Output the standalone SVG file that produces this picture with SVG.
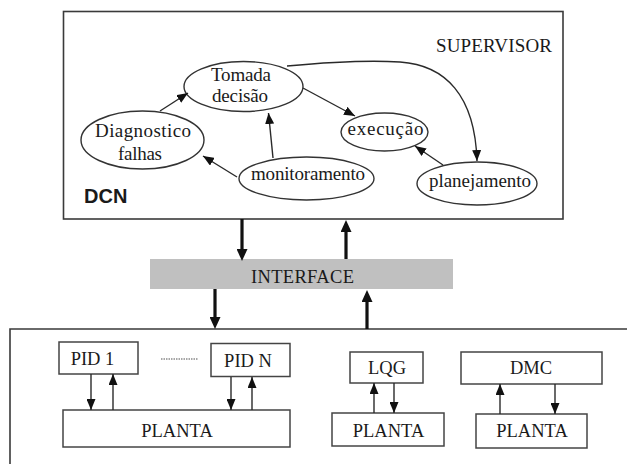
<svg xmlns="http://www.w3.org/2000/svg" width="627" height="464" viewBox="0 0 627 464">
  <style>
    .frame { fill: none; stroke: #3a3a3a; stroke-width: 1.6; }
    .node ellipse { fill: #fff; stroke: #333; stroke-width: 1.4; }
    .node rect { fill: #fff; stroke: #444; stroke-width: 1.5; }
    .lbl { font-family: "Liberation Serif", "Times New Roman", serif; font-size: 19px; fill: #1a1a1a; text-anchor: middle; }
    .blbl { font-family: "Liberation Serif", "Times New Roman", serif; font-size: 18.5px; fill: #1a1a1a; text-anchor: middle; }
    .thin { fill: none; stroke: #2a2a2a; stroke-width: 1.4; marker-end: url(#ah); }
    .thick { fill: none; stroke: #111; stroke-width: 3.2; marker-end: url(#ahBig); }
  </style>
  <defs>
    <marker id="ah" viewBox="0 0 10 10" refX="10" refY="5" markerWidth="11" markerHeight="9" markerUnits="userSpaceOnUse" orient="auto" preserveAspectRatio="none">
      <path d="M0,0 L10,5 L0,10 z" fill="#111"/>
    </marker>
    <marker id="ahBig" viewBox="0 0 10 10" refX="5" refY="5" markerWidth="12" markerHeight="11" markerUnits="userSpaceOnUse" orient="auto" preserveAspectRatio="none">
      <path d="M0,0 L10,5 L0,10 z" fill="#111"/>
    </marker>
  </defs>

  <rect width="627" height="464" fill="#fff"/>

  <!-- supervisor frame -->
  <g id="supervisor">
    <rect class="frame" x="63.5" y="11.5" width="499.5" height="207.5"/>
    <text class="lbl" x="494" y="52" textLength="116" lengthAdjust="spacing">SUPERVISOR</text>
    <text x="84" y="203" font-family="'Liberation Sans', Arial, sans-serif" font-weight="bold" font-size="20" fill="#1a1a1a">DCN</text>
  </g>

  <!-- plant-level frame (open at right and bottom) -->
  <g id="plant-level">
    <path class="frame" d="M10,464 V329 H627"/>
  </g>

  <!-- interface band -->
  <g id="interface">
    <rect x="150" y="259" width="303" height="30" fill="#c0c0c0"/>
    <text class="blbl" x="302.5" y="283" textLength="103" lengthAdjust="spacing">INTERFACE</text>
  </g>

  <!-- supervisor nodes -->
  <g id="tomada" class="node">
    <ellipse cx="243.5" cy="86.5" rx="59.5" ry="25"/>
    <text class="lbl" x="241" y="81" textLength="60" lengthAdjust="spacing">Tomada</text>
    <text class="lbl" x="240" y="102" textLength="56" lengthAdjust="spacing">decisão</text>
  </g>
  <g id="diagnostico" class="node">
    <ellipse cx="142.5" cy="140" rx="61.5" ry="29"/>
    <text class="lbl" x="143" y="137" textLength="96" lengthAdjust="spacing">Diagnostico</text>
    <text class="lbl" x="140" y="160" textLength="44" lengthAdjust="spacing">falhas</text>
  </g>
  <g id="execucao" class="node">
    <ellipse cx="384.5" cy="132" rx="43.5" ry="19"/>
    <text class="lbl" x="385.5" y="135" textLength="76" lengthAdjust="spacing">execução</text>
  </g>
  <g id="monitoramento" class="node">
    <ellipse cx="306.5" cy="178.5" rx="67.5" ry="21.5"/>
    <text class="lbl" x="308" y="180" textLength="114" lengthAdjust="spacing">monitoramento</text>
  </g>
  <g id="planejamento" class="node">
    <ellipse cx="477" cy="183.5" rx="60" ry="21.5"/>
    <text class="lbl" x="480" y="187" textLength="102" lengthAdjust="spacing">planejamento</text>
  </g>

  <!-- plant-level nodes -->
  <g id="pid1" class="node">
    <rect x="59" y="342" width="79" height="32"/>
    <text class="blbl" x="92.5" y="365">PID 1</text>
  </g>
  <g id="pidn" class="node">
    <rect x="211" y="343.5" width="79" height="33"/>
    <text class="blbl" x="248" y="367">PID N</text>
  </g>
  <g id="planta1" class="node">
    <rect x="63" y="410" width="227" height="37"/>
    <text class="blbl" x="177" y="437">PLANTA</text>
  </g>
  <g id="lqg" class="node">
    <rect x="350" y="352" width="73" height="31"/>
    <text class="blbl" x="387" y="374">LQG</text>
  </g>
  <g id="planta2" class="node">
    <rect x="332" y="413" width="112" height="33"/>
    <text class="blbl" x="388.5" y="437">PLANTA</text>
  </g>
  <g id="dmc" class="node">
    <rect x="461" y="352" width="141" height="32"/>
    <text class="blbl" x="531" y="374">DMC</text>
  </g>
  <g id="planta3" class="node">
    <rect x="476" y="414" width="111" height="34"/>
    <text class="blbl" x="532" y="437">PLANTA</text>
  </g>

  <!-- dotted ellipsis between PID controllers -->
  <line x1="161" y1="359" x2="198" y2="359" stroke="#8a8a8a" stroke-width="1.6" stroke-dasharray="1.5 1"/>

  <!-- connectors -->
  <g id="connectors">
    <path class="thin" d="M160,111 L188,93"/>
    <path class="thin" d="M273,158 L268.5,113"/>
    <path class="thin" d="M237,177 L203,156"/>
    <path class="thin" d="M303,88 L355,116"/>
    <path class="thin" d="M443,165 L415,146"/>
    <path class="thin" d="M287,66 C330,62 370,60 400,62 C445,65 475,95 477,161"/>

    <path class="thick" d="M242,219 V255"/>
    <path class="thick" d="M346,259 V226"/>
    <path class="thick" d="M215,289 V323"/>
    <path class="thick" d="M367,329 V296"/>

    <path class="thin" d="M91,374 V410"/>
    <path class="thin" d="M113,410 V374"/>
    <path class="thin" d="M231,377 V410"/>
    <path class="thin" d="M252,410 V377"/>
    <path class="thin" d="M374,413 V383"/>
    <path class="thin" d="M394,383 V413"/>
    <path class="thin" d="M500,414 V384"/>
    <path class="thin" d="M555,384 V414"/>
  </g>
</svg>
